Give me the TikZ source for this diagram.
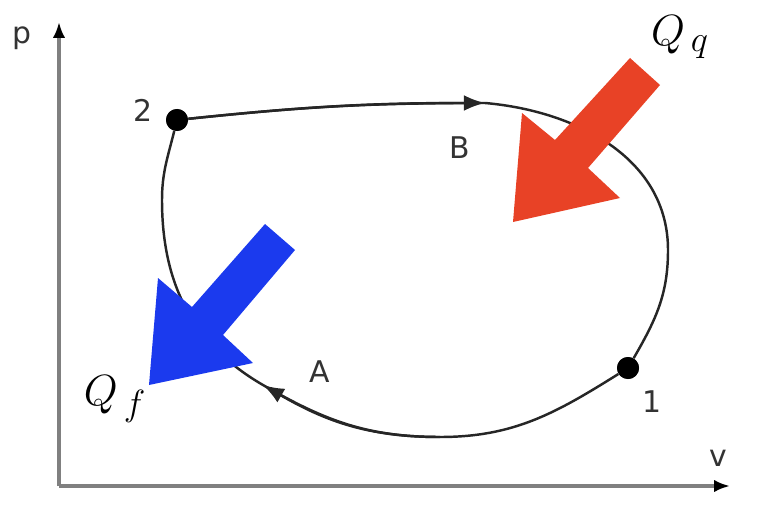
\documentclass[tikz,border=0pt]{standalone}
\usepackage{fontspec}
\setsansfont{DejaVu Sans}
\usetikzlibrary{arrows.meta}
\definecolor{heatin}{RGB}{232,66,38}
\definecolor{heatout}{RGB}{27,58,238}

\begin{document}
\begin{tikzpicture}[
  >=Latex,
  axis/.style={draw=black!50,line width=2pt,-{Latex[color=black,length=9pt,width=7pt]}},
  cyc/.style={draw=black!85,line width=1.4pt},
  midtip/.style={cyc,-{Latex[length=12pt,width=9pt]}},
  state/.style={circle,fill=black,inner sep=0pt,minimum size=0.44cm},
  lbl/.style={font=\sffamily\fontsize{17}{20}\selectfont,text=black!80},
  qlbl/.style={font=\fontsize{32}{36}\selectfont},
]
\useasboundingbox (0,0) rectangle (15.16,10.24);
% axes
\coordinate (o) at (1.18,0.52);
\coordinate (ptop) at (1.18,9.8);
\coordinate (vend) at (14.6,0.52);
\draw[axis] (o) -- (ptop);
\draw[axis] (o) -- (vend);
\node[lbl] (plab) at (0.44,9.48) {p};
\node[lbl] (vlab) at (14.36,1.08) {v};
% states
\node[state] (n2) at (3.54,7.84) {};
\node[state] (n1) at (12.56,2.88) {};
\coordinate (bm) at (9.7,8.18);
\coordinate (rt) at (13.36,5.24);
\coordinate (lb) at (8.8,1.5);
\coordinate (am) at (5.26,2.54);
\coordinate (lf) at (3.24,6.24);
% cycle
\draw[cyc] (n2) to[out=6,in=180] (bm) to[out=-5,in=90] (rt) to[out=-90,in=60] (n1)
  to[out=212,in=0] (lb) to[out=180,in=-30] (am) to[out=150,in=-90] (lf) to[out=90,in=-104] (n2);
\draw[midtip] (n2) to[out=6,in=180] (bm);
\draw[midtip] (lb) to[out=180,in=-30] (am);
% heat arrows
\fill[heatin] (12.6,9.08) -- (11.1,7.44) -- (10.44,7.98) -- (10.26,5.8)
  -- (12.4,6.28) -- (11.76,6.88) -- (13.2,8.54) -- cycle;
\fill[heatout] (5.3,5.76) -- (3.84,4.1) -- (3.16,4.68) -- (2.98,2.54)
  -- (5.06,2.98) -- (4.46,3.54) -- (5.9,5.24) -- cycle;
\node[state] at (n2) {};
\node[state] at (n1) {};
% labels
\node[lbl] (l1) at (13.04,2.2) {1};
\node[lbl] (l2) at (2.86,8.04) {2};
\node[lbl] (lB) at (9.2,7.28) {B};
\node[lbl] (lA) at (6.4,2.8) {A};
\node[qlbl] (qq) at (13.6,9.5) {$Q_{\,q}$};
\node[qlbl] (qf) at (2.3,2.26) {$Q_{\,f}$};
\end{tikzpicture}
\end{document}
